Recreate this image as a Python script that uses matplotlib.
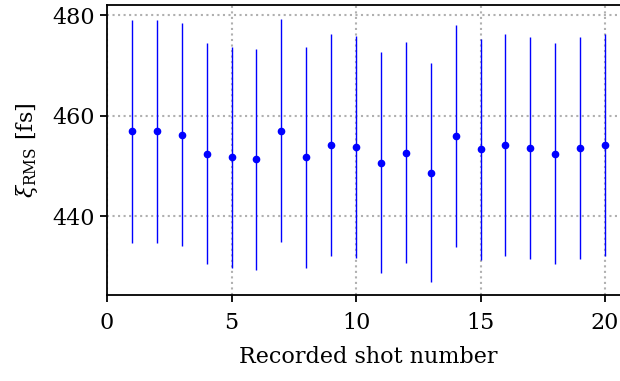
import numpy as np
import matplotlib
matplotlib.use('Agg')
import matplotlib.pyplot as plt

shot = np.arange(1, 21)
xi_rms = [456.9, 456.9, 456.2, 452.4, 451.7, 451.3, 457.0, 451.7, 454.1, 453.8,
          450.6, 452.6, 448.6, 456.0, 453.3, 454.1, 453.5, 452.4, 453.5, 454.1]
xi_err = [22.2, 22.2, 22.2, 22.0, 22.0, 22.0, 22.2, 22.0, 22.1, 22.1,
          22.0, 22.0, 21.8, 22.1, 22.0, 22.1, 22.1, 22.0, 22.1, 22.1]

plt.rcParams['font.family'] = ['DejaVu Serif']
plt.rcParams['mathtext.fontset'] = 'dejavuserif'
plt.rcParams['font.size'] = 16

fig = plt.figure(figsize=(6.2, 3.81), dpi=100)
ax = fig.add_axes([0.1726, 0.2257, 0.8435, 0.761])
ax.errorbar(shot, xi_rms, yerr=xi_err, fmt='o', color='b', ms=4.5,
            elinewidth=1.0, capsize=0, zorder=3)

ax.set_xlim(0, 21)
ax.set_ylim(424.3, 482)
ax.set_xticks([0, 5, 10, 15, 20])
ax.set_yticks([440, 460, 480])
ax.grid(True, linestyle=':', color='#b0b0b0', linewidth=1.5)
for s in ax.spines.values():
    s.set_linewidth(1.3)
ax.tick_params(width=1.3, length=5)
ax.tick_params(axis='x', pad=7)
ax.set_xlabel('Recorded shot number', labelpad=9)
ax.set_ylabel(r'$\xi_{\mathrm{RMS}}$ [fs]', labelpad=9)

fig.savefig('out.png', dpi=100)
